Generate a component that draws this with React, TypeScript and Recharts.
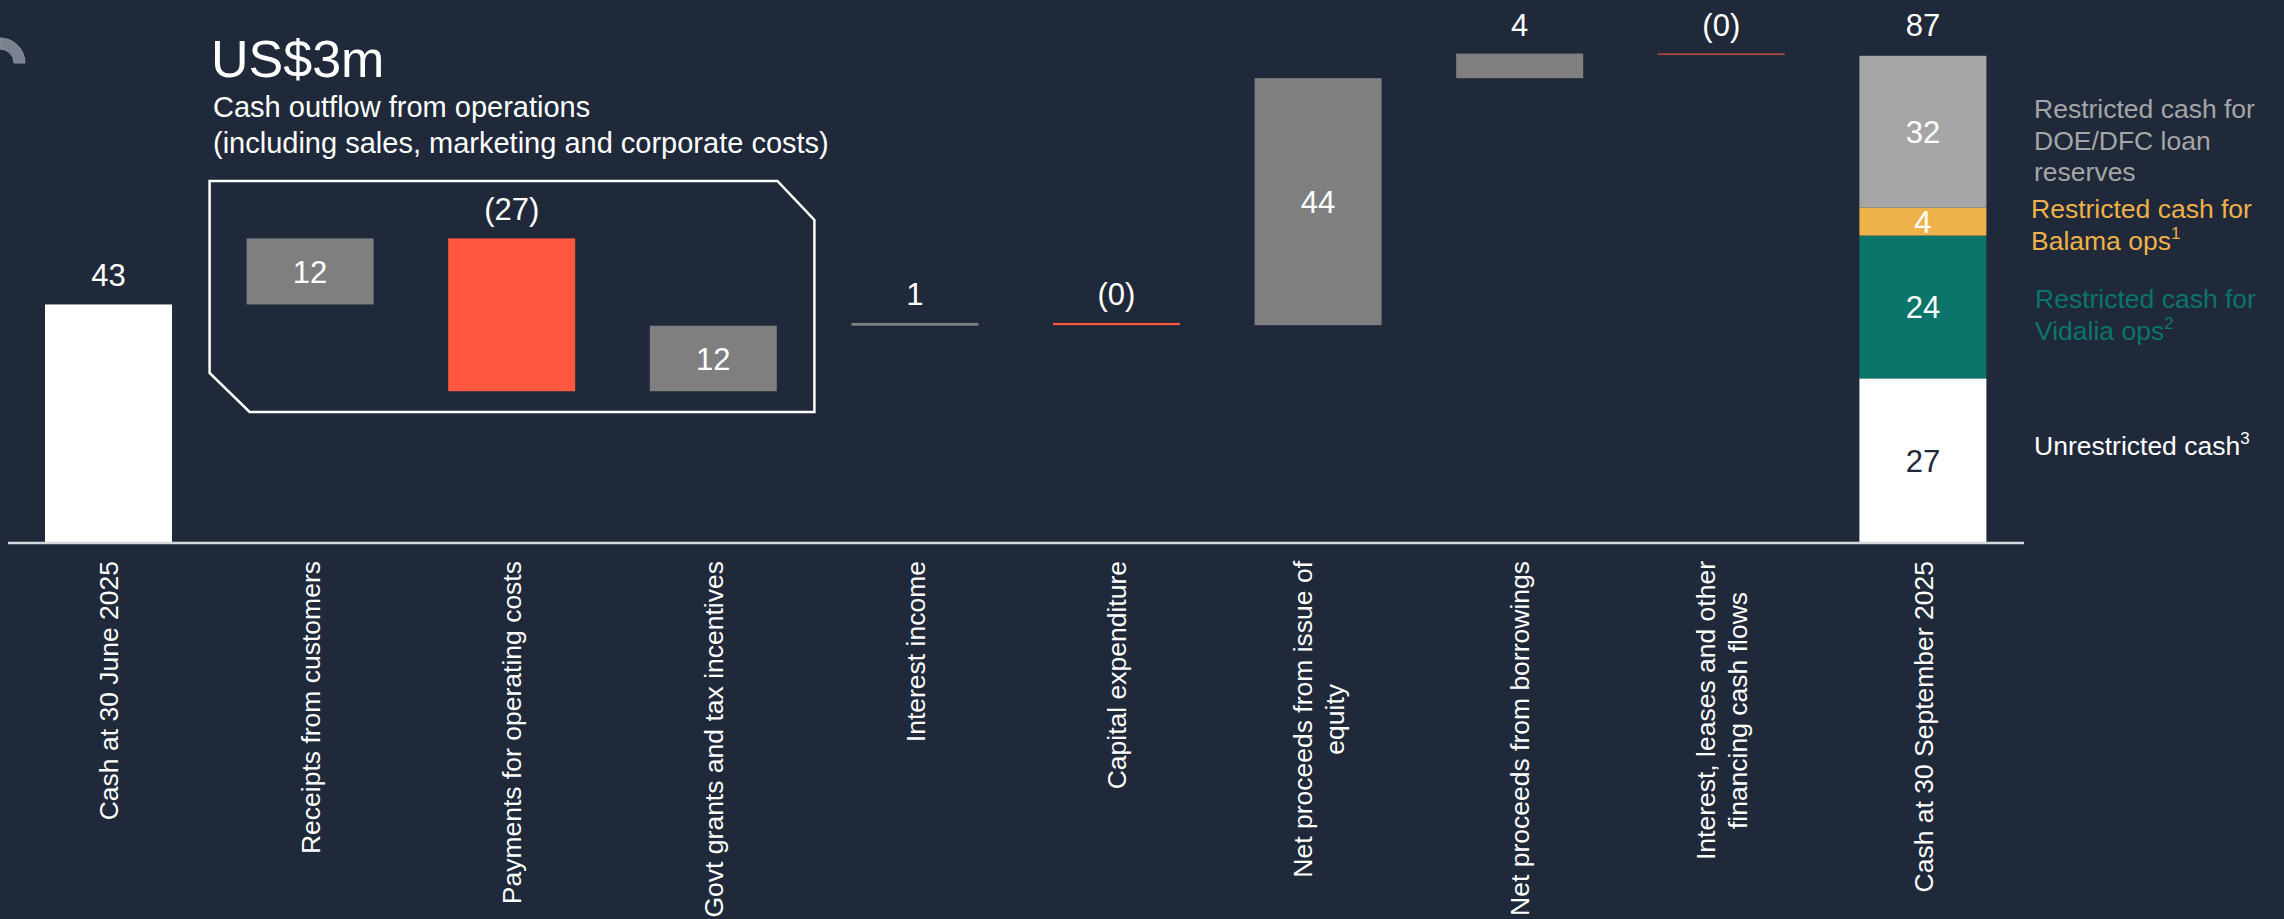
import React from 'react';
import { BarChart, Bar, XAxis, YAxis } from 'recharts';

const categories = [
  'Cash at 30 June 2025',
  'Receipts from customers',
  'Payments for operating costs',
  'Govt grants and tax incentives',
  'Interest income',
  'Capital expenditure',
  'Net proceeds from issue of\nequity',
  'Net proceeds from borrowings',
  'Interest, leases and other\nfinancing cash flows',
  'Cash at 30 September 2025',
];

// US$m: opening balance, then each movement
const movements = [42.6, 11.8, -27.3, 11.7, 0.5, -0.4, 44.1, 4.4, -0.2];

// closing balance split, bottom to top
const closingParts = ['Unrestricted cash', 'Vidalia ops', 'Balama ops', 'DOE/DFC loan reserves'];
const closingValues = [29.4, 25.5, 5.0, 27.1];
const closingLabels = ['27', '24', '4', '32'];

const W = 2284;
const H = 919;
const PLOT_LEFT = 8;
const PLOT_RIGHT = 2024;
const PLOT_TOP = 39;
const AXIS_Y = 543;
const Y_MAX = 90;
const BAND = (PLOT_RIGHT - PLOT_LEFT) / categories.length;

const BG = '#1f2939';
const FONT = "'Liberation Sans', Arial, Helvetica, sans-serif";
const WHITE = '#ffffff';
const GREY = '#7f7f7f';
const RED = '#ff5740';
const partColors = ['#ffffff', '#0b756b', '#efb14a', '#a6a6a6'];
const partTextColors = [BG, '#ffffff', '#ffffff', '#ffffff'];

const fmt = (v: number) => (v < 0 ? `(${Math.abs(Math.round(v))})` : `${Math.round(v)}`);

let running = 0;
const rows = categories.map((name, i) => {
  const row: any = { name, base: 0, flow: 0, value: 0, kind: 'closing' };
  closingParts.forEach((_, k) => (row[`p${k}`] = 0));
  if (i < movements.length) {
    const v = movements[i];
    const start = i === 0 ? 0 : running;
    const end = start + v;
    running = end;
    row.base = Math.min(start, end);
    row.flow = Math.abs(v);
    row.value = v;
    row.kind = i === 0 ? 'total' : v >= 0 ? 'up' : 'down';
  } else {
    closingValues.forEach((v, k) => (row[`p${k}`] = v));
    row.value = closingValues.reduce((a, b) => a + b, 0);
  }
  return row;
});

const labelStyle = { fontFamily: FONT, fontSize: 31 };

const FlowShape = (props: any) => {
  const { x, y, width, height, payload } = props;
  if (!height || payload.kind === 'closing') return null;
  const fill = payload.kind === 'total' ? WHITE : payload.kind === 'up' ? GREY : RED;
  const inside = payload.kind === 'up' && height > 40;
  return (
    <g>
      <rect x={x} y={y} width={width} height={height} fill={fill} />
      {inside ? (
        <text x={x + width / 2} y={y + height / 2} dy="0.36em" textAnchor="middle" fill={WHITE} {...labelStyle}>
          {fmt(payload.value)}
        </text>
      ) : (
        <text x={x + width / 2} y={y - 18} textAnchor="middle" fill={WHITE} {...labelStyle}>
          {fmt(payload.value)}
        </text>
      )}
    </g>
  );
};

const makePartShape = (k: number) => (props: any) => {
  const { x, y, width, height, payload } = props;
  if (!height) return null;
  const top = k === closingParts.length - 1;
  return (
    <g>
      <rect x={x} y={y} width={width} height={height} fill={partColors[k]} />
      <text x={x + width / 2} y={y + height / 2} dy="0.36em" textAnchor="middle" fill={partTextColors[k]} {...labelStyle}>
        {closingLabels[k]}
      </text>
      {top && (
        <text x={x + width / 2} y={y - 20} textAnchor="middle" fill={WHITE} {...labelStyle}>
          {fmt(payload.value)}
        </text>
      )}
    </g>
  );
};

const TICK_FONT = 26.5;
let ctx: CanvasRenderingContext2D | null = null;
const measure = (s: string) => {
  if (!ctx) ctx = document.createElement('canvas').getContext('2d');
  if (!ctx) return s.length * TICK_FONT * 0.5;
  ctx.font = `${TICK_FONT}px "Liberation Sans"`;
  return ctx.measureText(s).width;
};

const CategoryTick = (props: any) => {
  const { x, payload } = props;
  const lines = String(payload.value).split('\n');
  const longest = Math.max(...lines.map(measure));
  const cy = AXIS_Y + 18 + longest / 2;
  return (
    <g>
      {lines.map((line, i) => {
        const bx = x + 9.5 + (i - (lines.length - 1) / 2) * 32;
        return (
          <text
            key={i}
            x={bx}
            y={cy}
            textAnchor="middle"
            transform={`rotate(-90, ${bx}, ${cy})`}
            fill={WHITE}
            fontFamily={FONT}
            fontSize={TICK_FONT}
          >
            {line}
          </text>
        );
      })}
    </g>
  );
};

const legendItems = [
  { lines: ['Restricted cash for', 'DOE/DFC loan', 'reserves'], sup: '', color: '#a6a6a6', x: 2034, y: 118 },
  { lines: ['Restricted cash for', 'Balama ops'], sup: '1', color: '#efb14a', x: 2031, y: 218 },
  { lines: ['Restricted cash for', 'Vidalia ops'], sup: '2', color: '#0b756b', x: 2035, y: 308 },
  { lines: ['Unrestricted cash'], sup: '3', color: '#ffffff', x: 2034, y: 455 },
];

const Overlay = () => {
  const boxL = PLOT_LEFT + BAND * 1;
  const boxR = PLOT_LEFT + BAND * 4;
  const boxT = 181;
  const boxB = 412;
  const box = [
    [boxL, boxT],
    [boxR - 37, boxT],
    [boxR, boxT + 39],
    [boxR, boxB],
    [boxL + 40, boxB],
    [boxL, boxB - 39],
  ]
    .map((p) => p.join(','))
    .join(' ');
  return (
    <svg width={W} height={H} style={{ position: 'absolute', left: 0, top: 0, pointerEvents: 'none' }}>
      <path d="M 0 38 A 25 25 0 0 1 25 63 L 14 63 A 14 14 0 0 0 0 49 Z" fill="#7a828f" stroke="#8a929e" strokeWidth={1} />
      <text x={211} y={77} fill={WHITE} fontFamily={FONT} fontSize={52}>
        US$3m
      </text>
      <text x={213} y={117} fill={WHITE} fontFamily={FONT} fontSize={29}>
        Cash outflow from operations
      </text>
      <text x={213} y={153} fill={WHITE} fontFamily={FONT} fontSize={29}>
        (including sales, marketing and corporate costs)
      </text>
      <polygon points={box} fill="none" stroke={WHITE} strokeWidth={2.5} />
      {legendItems.map((item, i) => (
        <text key={i} fill={item.color} fontFamily={FONT} fontSize={26.5}>
          {item.lines.map((line, j) => (
            <tspan key={j} x={item.x} y={item.y + j * 31.5}>
              {line}
              {j === item.lines.length - 1 && item.sup ? (
                <tspan fontSize={17} dy={-11}>
                  {item.sup}
                </tspan>
              ) : null}
            </tspan>
          ))}
        </text>
      ))}
    </svg>
  );
};

export default function App() {
  return (
    <div style={{ position: 'absolute', left: 0, top: 0, width: W, height: H, background: BG, overflow: 'hidden' }}>
      <BarChart
        width={W}
        height={H}
        data={rows}
        margin={{ top: PLOT_TOP, right: W - PLOT_RIGHT, bottom: 0, left: PLOT_LEFT }}
        barSize={127}
      >
        <XAxis
          dataKey="name"
          interval={0}
          tickLine={false}
          tickSize={0}
          tickMargin={0}
          height={H - AXIS_Y}
          axisLine={{ stroke: '#d5d9df', strokeWidth: 2.5 }}
          tick={CategoryTick}
        />
        <YAxis hide domain={[0, Y_MAX]} />
        <Bar dataKey="base" stackId="w" fill="transparent" isAnimationActive={false} />
        <Bar dataKey="flow" stackId="w" shape={FlowShape} isAnimationActive={false} />
        {closingParts.map((name, k) => (
          <Bar key={name} dataKey={`p${k}`} name={name} stackId="w" shape={makePartShape(k)} isAnimationActive={false} />
        ))}
      </BarChart>
      <Overlay />
    </div>
  );
}
